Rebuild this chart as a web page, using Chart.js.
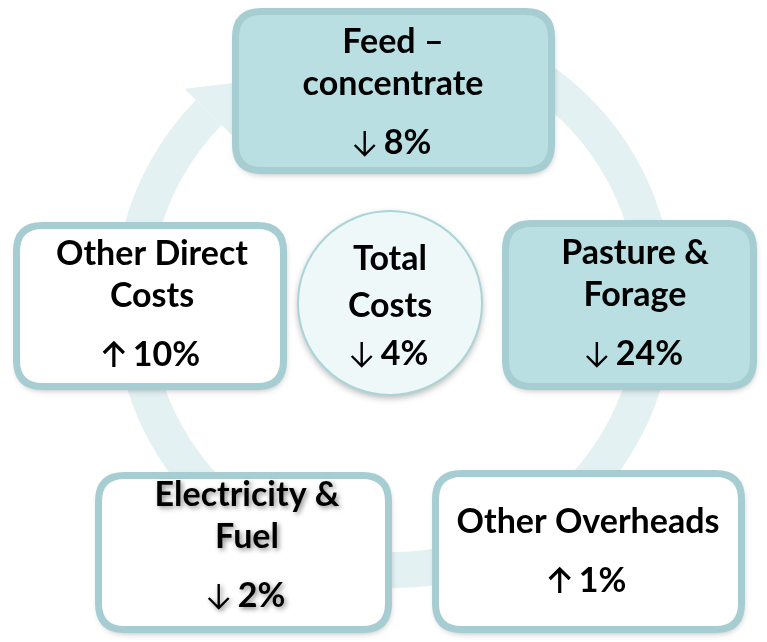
<!DOCTYPE html>
<html lang="en">
<head>
    <meta charset="UTF-8">
    <title>Cost changes</title>
    <script src="https://cdn.jsdelivr.net/npm/chart.js@4"></script>
    <style>
        body { margin: 0; background: #fff; }
        canvas { display: block; }
    </style>
</head>
<body>
    <canvas id="chart" width="767" height="642"></canvas>
    <script>
        // values
        const categories = [['Feed –', 'concentrate'], ['Pasture &', 'Forage'], ['Other Overheads'], ['Electricity &', 'Fuel'], ['Other Direct', 'Costs']];
        const changes = [-8, -24, 1, -2, 10];
        const totalLabel = ['Total', 'Costs'];
        const totalChange = -4;

        // where each box sits (in axis units, axes run 0..767 and 0..642)
        const boxes = [
            { x0: 232, y0: 8, x1: 555, y1: 174, cx: 393, base: 53, fill: '#b9dfe3' },
            { x0: 502, y0: 220, x1: 757, y1: 390, cx: 635, base: 264, fill: '#b9dfe3' },
            { x0: 432, y0: 470, x1: 745, y1: 633, cx: 588, base: 533, fill: '#ffffff' },
            { x0: 95, y0: 472, x1: 392, y1: 633, cx: 247, base: 506, fill: '#ffffff', glow: true },
            { x0: 13, y0: 222, x1: 287, y1: 390, cx: 152, base: 265, fill: '#ffffff' }
        ];
        const hub = { cx: 390, cy: 303, r: 92 };
        const ring = { cx: 394, cy: 302, rx: 262, ry: 268, from: -60, to: 225, width: 36 };

        const FONT = 'bold 34px Lato, "Open Sans", sans-serif';
        const BORDER = '#a6cdd1';

        function roundRect(ctx, x, y, w, h, r) {
            ctx.beginPath();
            ctx.moveTo(x + r, y);
            ctx.lineTo(x + w - r, y);
            ctx.quadraticCurveTo(x + w, y, x + w, y + r);
            ctx.lineTo(x + w, y + h - r);
            ctx.quadraticCurveTo(x + w, y + h, x + w - r, y + h);
            ctx.lineTo(x + r, y + h);
            ctx.quadraticCurveTo(x, y + h, x, y + h - r);
            ctx.lineTo(x, y + r);
            ctx.quadraticCurveTo(x, y, x + r, y);
            ctx.closePath();
        }

        function drawArrow(ctx, x, base, up) {
            const top = base - 23, bot = base + 1;
            ctx.save();
            ctx.strokeStyle = '#000';
            ctx.lineWidth = up ? 3.2 : 2.4;
            ctx.lineCap = 'butt';
            ctx.beginPath();
            ctx.moveTo(x, top);
            ctx.lineTo(x, bot);
            const tipY = up ? top : bot;
            const dir = up ? 1 : -1;
            ctx.moveTo(x - 10, tipY + dir * 10);
            ctx.lineTo(x, tipY);
            ctx.lineTo(x + 10, tipY + dir * 10);
            ctx.stroke();
            ctx.restore();
        }

        function drawChange(ctx, cx, base, value) {
            const txt = Math.abs(value) + '%';
            ctx.font = FONT;
            const tw = ctx.measureText(txt).width;
            const aw = 20, gap = 9;
            const left = cx - (aw + gap + tw) / 2;
            drawArrow(ctx, left + aw / 2, base, value > 0);
            ctx.textAlign = 'left';
            ctx.fillText(txt, left + aw + gap, base);
        }

        const cyclePlugin = {
            id: 'cycle',
            beforeDatasetsDraw(chart) {
                const ctx = chart.ctx, xs = chart.scales.x, ys = chart.scales.y;
                const cx = xs.getPixelForValue(ring.cx), cy = ys.getPixelForValue(ring.cy);
                const rx = xs.getPixelForValue(ring.cx + ring.rx) - cx;
                const ry = ys.getPixelForValue(ring.cy + ring.ry) - cy;
                const a0 = ring.from * Math.PI / 180, a1 = ring.to * Math.PI / 180;
                ctx.save();
                ctx.strokeStyle = '#e3f1f3';
                ctx.fillStyle = '#e3f1f3';
                ctx.lineWidth = ring.width;
                ctx.beginPath();
                ctx.ellipse(cx, cy, rx, ry, 0, a0, a1, false);
                ctx.stroke();
                // arrow head at the end of the ring
                const ex = cx + rx * Math.cos(a1), ey = cy + ry * Math.sin(a1);
                let tx = -rx * Math.sin(a1), ty = ry * Math.cos(a1);
                const len = Math.hypot(tx, ty);
                tx /= len; ty /= len;
                const nx = -ty, ny = tx;
                ctx.beginPath();
                ctx.moveTo(ex + nx * 34, ey + ny * 34);
                ctx.lineTo(ex + tx * 42, ey + ty * 42);
                ctx.lineTo(ex - nx * 34, ey - ny * 34);
                ctx.closePath();
                ctx.fill();
                ctx.restore();
            },
            afterDatasetsDraw(chart) {
                const ctx = chart.ctx, xs = chart.scales.x, ys = chart.scales.y;
                const pts = chart.data.datasets[0].data;
                ctx.save();
                ctx.textBaseline = 'alphabetic';
                boxes.forEach((b, i) => {
                    const x0 = xs.getPixelForValue(b.x0), x1 = xs.getPixelForValue(b.x1);
                    const y0 = ys.getPixelForValue(b.y0), y1 = ys.getPixelForValue(b.y1);
                    ctx.save();
                    roundRect(ctx, x0 + 3.5, y0 + 3.5, x1 - x0 - 7, y1 - y0 - 7, 26);
                    ctx.shadowColor = 'rgba(0,0,0,0.35)';
                    ctx.shadowBlur = 7;
                    ctx.shadowOffsetY = 3;
                    ctx.shadowOffsetX = 1;
                    ctx.fillStyle = b.fill;
                    ctx.fill();
                    ctx.shadowColor = 'transparent';
                    ctx.lineWidth = 7;
                    ctx.strokeStyle = BORDER;
                    ctx.stroke();
                    ctx.restore();

                    const tcx = xs.getPixelForValue(b.cx);
                    let base = ys.getPixelForValue(b.base);
                    ctx.save();
                    if (b.glow) {
                        ctx.shadowColor = 'rgba(0,0,0,0.45)';
                        ctx.shadowBlur = 5;
                        ctx.shadowOffsetX = 2;
                        ctx.shadowOffsetY = 2;
                    }
                    ctx.fillStyle = '#000';
                    ctx.font = FONT;
                    ctx.textAlign = 'center';
                    categories[i].forEach((line, k) => {
                        ctx.fillText(line, tcx, base + k * 42);
                    });
                    base += (categories[i].length - 1) * 42 + 59;
                    drawChange(ctx, tcx, base, pts[i].v);
                    ctx.restore();
                });

                // centre circle
                const hx = xs.getPixelForValue(hub.cx), hy = ys.getPixelForValue(hub.cy);
                const hr = xs.getPixelForValue(hub.cx + hub.r) - hx;
                ctx.save();
                ctx.beginPath();
                ctx.arc(hx, hy, hr, 0, Math.PI * 2);
                ctx.shadowColor = 'rgba(0,0,0,0.3)';
                ctx.shadowBlur = 7;
                ctx.shadowOffsetY = 3;
                ctx.fillStyle = '#eff8f9';
                ctx.fill();
                ctx.shadowColor = 'transparent';
                ctx.lineWidth = 2;
                ctx.strokeStyle = '#a9d4d8';
                ctx.stroke();
                ctx.restore();
                ctx.fillStyle = '#000';
                ctx.font = FONT;
                ctx.textAlign = 'center';
                ctx.fillText(totalLabel[0], hx, ys.getPixelForValue(270));
                ctx.fillText(totalLabel[1], hx, ys.getPixelForValue(317));
                drawChange(ctx, hx, ys.getPixelForValue(365), totalChange);
                ctx.restore();
            }
        };

        new Chart(document.getElementById('chart').getContext('2d'), {
            type: 'scatter',
            data: {
                datasets: [{
                    label: 'Change',
                    data: boxes.map((b, i) => ({ x: (b.x0 + b.x1) / 2, y: (b.y0 + b.y1) / 2, v: changes[i] })),
                    pointRadius: 0
                }]
            },
            options: {
                responsive: false,
                animation: false,
                layout: { padding: 0 },
                plugins: { legend: { display: false }, tooltip: { enabled: false } },
                scales: {
                    x: { type: 'linear', min: 0, max: 767, display: false },
                    y: { type: 'linear', min: 0, max: 642, reverse: true, display: false }
                }
            },
            plugins: [cyclePlugin]
        });
    </script>
</body>
</html>
